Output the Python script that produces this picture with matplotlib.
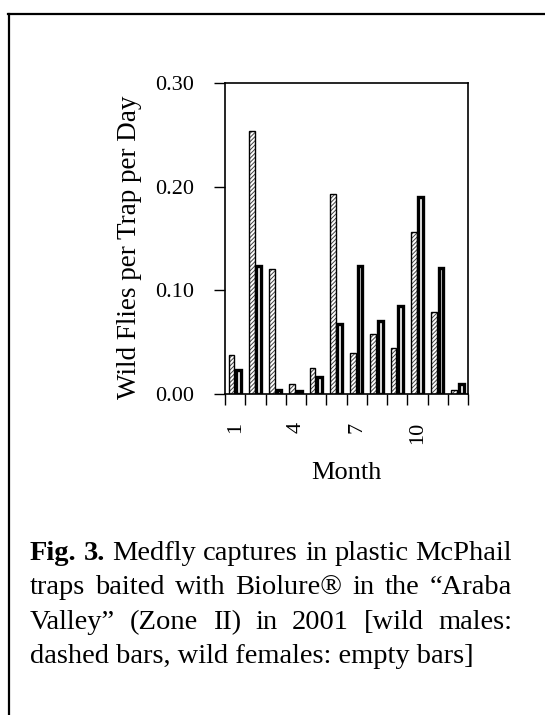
import numpy as np
import matplotlib
matplotlib.use("Agg")
import matplotlib.pyplot as plt
from matplotlib.lines import Line2D

# Data (wild flies per trap per day)
months = np.arange(1, 13)
month_labels = ["1", "4", "7", "10"]
label_months = [1, 4, 7, 10]
males = [0.038, 0.254, 0.121, 0.010, 0.025, 0.1925, 0.040, 0.058, 0.044, 0.156, 0.079, 0.0035]
females = [0.023, 0.1235, 0.004, 0.0026, 0.016, 0.068, 0.1235, 0.070, 0.085, 0.190, 0.122, 0.010]

caption_lines = [
    [("Fig.", True), ("3.", True), ("Medfly", False), ("captures", False), ("in", False),
     ("plastic", False), ("McPhail", False)],
    [("traps", False), ("baited", False), ("with", False), ("Biolure®", False), ("in", False),
     ("the", False), ("\u201cAraba", False)],
    [("Valley\u201d", False), ("(Zone", False), ("II)", False), ("in", False), ("2001", False),
     ("[wild", False), ("males:", False)],
    [("dashed bars, wild females: empty bars]", False)],
]

W, H = 545, 715
plt.rcParams['font.family'] = ['Liberation Serif', 'DejaVu Serif']
plt.rcParams['hatch.linewidth'] = 0.7

fig = plt.figure(figsize=(W / 100, H / 100), dpi=100)

def fx(x):
    return x / W

def fy(y):
    return 1 - y / H

# Page border (top and left edges only)
fig.add_artist(Line2D([fx(8), fx(545)], [fy(14), fy(14)], color="black", lw=1.6))
fig.add_artist(Line2D([fx(9), fx(9)], [fy(14), fy(715)], color="black", lw=1.6))

ax = fig.add_axes([fx(225), fy(394), (468 - 225) / W, (394 - 83) / H])

# Males: hatched bars, thin outline
ax.bar(months - 0.18, males, width=0.29, color="white", edgecolor="#444444",
       hatch="////////", linewidth=0)
ax.bar(months - 0.18, males, width=0.29, fill=False, edgecolor="black", linewidth=1.0)
# Females: empty bars, thick outline
ax.bar(months + 0.17, females, width=0.24, color="white", edgecolor="black", linewidth=2.4)

ax.set_xlim(0.5, 12.5)
ax.set_ylim(0, 0.30)
ax.set_yticks([0, 0.1, 0.2, 0.3])
ax.set_yticklabels(["%.2f" % v for v in [0, 0.1, 0.2, 0.3]])
ax.set_xticks(np.arange(0.5, 13, 1))
ax.set_xticklabels([])
ax.set_xticks(label_months, minor=True)
ax.set_xticklabels(month_labels, minor=True, rotation=90)
ax.tick_params(axis="x", which="major", direction="out", length=8, width=1.0)
ax.tick_params(axis="x", which="minor", length=0, pad=20, labelsize=16)
ax.tick_params(axis="y", direction="out", length=8, width=1.0, pad=14, labelsize=16)
for s in ax.spines.values():
    s.set_linewidth(1.2)

fig.text(fx(129), fy(247), "Wild Flies per Trap per Day", rotation=90,
         ha="center", va="center", fontsize=19.5)
fig.text(fx(346.5), fy(479), "Month", ha="center", va="baseline", fontsize=19)

# Justified caption
x0, x1 = 30, 512
baselines = [560, 594.3, 628.7, 663]
renderer = fig.canvas.get_renderer()
for words, base in zip(caption_lines, baselines):
    texts = []
    for w, bold in words:
        t = fig.text(fx(x0), fy(base), w, fontsize=20.5, va="baseline", ha="left",
                     fontweight="bold" if bold else "normal")
        texts.append(t)
    if len(texts) == 1:
        continue
    widths = [t.get_window_extent(renderer).width for t in texts]
    gap = (x1 - x0 - sum(widths)) / (len(texts) - 1)
    x = x0
    for t, wd in zip(texts, widths):
        t.set_x(fx(x))
        x += wd + gap

fig.savefig("out.png", dpi=100)
